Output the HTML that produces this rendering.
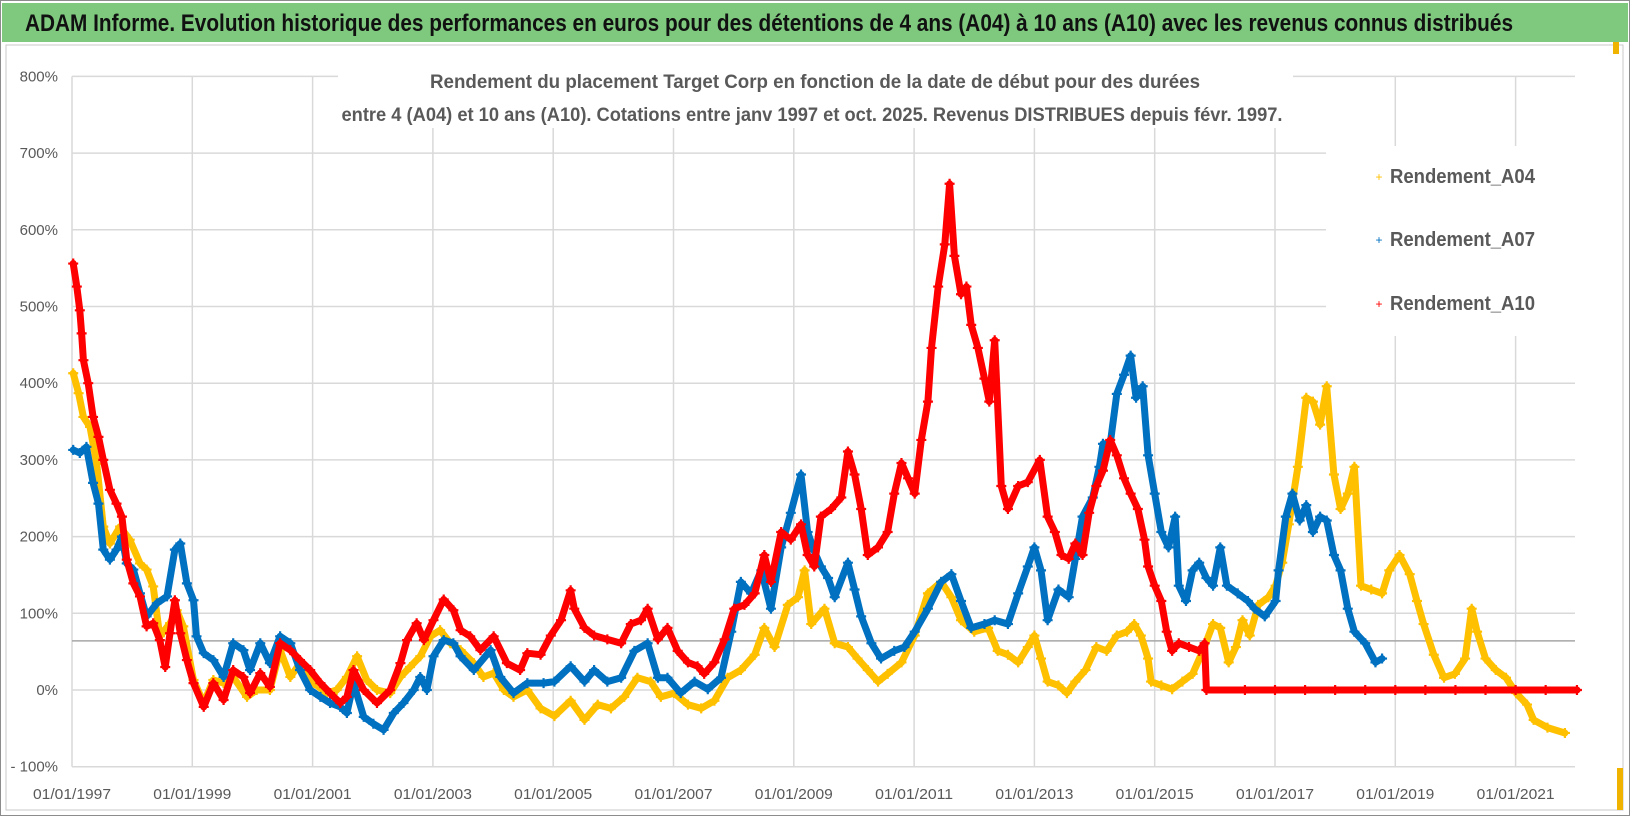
<!DOCTYPE html>
<html><head><meta charset="utf-8"><style>
html,body{margin:0;padding:0;background:#fff;}
svg{display:block;font-family:"Liberation Sans",sans-serif;}
</style></head><body>
<svg id="chart" width="1630" height="816" viewBox="0 0 1630 816">
<rect x="0" y="0" width="1630" height="816" fill="#fff"/>
<rect x="0.5" y="0.5" width="1629" height="815" fill="none" stroke="#8c8c8c"/>
<rect x="2" y="3" width="1626" height="39" fill="#7fc97f"/>
<text x="25" y="31" font-size="24" font-weight="bold" fill="#111" textLength="1488" lengthAdjust="spacingAndGlyphs">ADAM Informe. Evolution historique des performances en euros pour des détentions de 4 ans (A04) à 10 ans (A10) avec les revenus connus distribués</text>
<rect x="6" y="45" width="1617" height="765" fill="#fff" stroke="#c8c8c8"/>
<rect x="1613" y="42" width="6" height="12" fill="#f0b400"/>
<rect x="1617" y="768" width="6" height="42" fill="#f0b400"/>
<g id="grid"></g>
<g id="series"></g>
<rect x="338" y="60" width="955" height="68" fill="#fff"/>
<text x="815" y="88" font-size="19" font-weight="bold" fill="#595959" text-anchor="middle" textLength="770" lengthAdjust="spacingAndGlyphs">Rendement du placement Target Corp en fonction de la date de début pour des durées</text>
<text x="812" y="121" font-size="19" font-weight="bold" fill="#595959" text-anchor="middle" textLength="941" lengthAdjust="spacingAndGlyphs">entre 4 (A04) et 10 ans (A10). Cotations entre janv 1997 et oct. 2025. Revenus DISTRIBUES depuis févr. 1997.</text>
<g id="legend">
<rect x="1326" y="146" width="290" height="190" fill="#fff"/>
<g><text x="1379" y="181" font-size="12" fill="#ffc000" text-anchor="middle">+</text><text x="1390" y="183" font-size="20" font-weight="bold" fill="#595959" textLength="145" lengthAdjust="spacingAndGlyphs">Rendement_A04</text></g>
<g><text x="1379" y="244" font-size="12" fill="#0070c0" text-anchor="middle">+</text><text x="1390" y="246" font-size="20" font-weight="bold" fill="#595959" textLength="145" lengthAdjust="spacingAndGlyphs">Rendement_A07</text></g>
<g><text x="1379" y="308" font-size="12" fill="#ff0000" text-anchor="middle">+</text><text x="1390" y="310" font-size="20" font-weight="bold" fill="#595959" textLength="145" lengthAdjust="spacingAndGlyphs">Rendement_A10</text></g>
</g>
<g id="axes"></g>
</svg>
<script>
// ---- data ----
const yTicks = [800,700,600,500,400,300,200,100,0,-100];
const yTickLabels = ["800%","700%","600%","500%","400%","300%","200%","100%","0%","- 100%"];
const xTicks = [1997,1999,2001,2003,2005,2007,2009,2011,2013,2015,2017,2019,2021];
const xTickLabels = ["01/01/1997","01/01/1999","01/01/2001","01/01/2003","01/01/2005","01/01/2007","01/01/2009","01/01/2011","01/01/2013","01/01/2015","01/01/2017","01/01/2019","01/01/2021"];
const refLineValue = 64;

const datesA04 = [1997.02,1997.11,1997.19,1997.30,1997.41,1997.52,1997.63,1997.80,1997.96,1998.13,1998.24,1998.35,1998.46,1998.63,1998.74,1998.85,1999.02,1999.19,1999.35,1999.52,1999.68,1999.91,2000.07,2000.29,2000.46,2000.63,2000.79,2001.02,2001.24,2001.40,2001.57,2001.74,2001.90,2002.07,2002.29,2002.46,2002.62,2002.79,2002.96,2003.12,2003.29,2003.46,2003.68,2003.84,2004.01,2004.18,2004.34,2004.57,2004.79,2005.02,2005.29,2005.52,2005.74,2005.96,2006.18,2006.40,2006.62,2006.79,2007.01,2007.24,2007.46,2007.68,2007.90,2008.12,2008.35,2008.51,2008.68,2008.90,2009.07,2009.18,2009.29,2009.51,2009.68,2009.90,2010.06,2010.23,2010.40,2010.56,2010.79,2011.01,2011.23,2011.45,2011.62,2011.78,2012.00,2012.23,2012.39,2012.56,2012.73,2012.89,2013.00,2013.11,2013.22,2013.40,2013.54,2013.68,2013.85,2014.03,2014.20,2014.37,2014.54,2014.66,2014.77,2014.89,2014.94,2015.11,2015.29,2015.46,2015.63,2015.80,2015.97,2016.09,2016.23,2016.35,2016.46,2016.58,2016.72,2016.89,2017.01,2017.12,2017.23,2017.38,2017.52,2017.63,2017.75,2017.86,2017.98,2018.09,2018.21,2018.32,2018.43,2018.60,2018.78,2018.90,2019.07,2019.24,2019.36,2019.47,2019.64,2019.81,2019.99,2020.16,2020.27,2020.36,2020.50,2020.67,2020.84,2021.01,2021.19,2021.30,2021.53,2021.82];
const valuesA04 = [413,387,356,343,295,213,191,213,196,165,157,135,70,87,104,83,13,-17,13,9,17,-9,0,0,52,17,35,9,-4,0,17,44,13,0,-4,17,30,44,70,78,61,52,35,17,22,0,-9,0,-24,-34,-14,-39,-19,-24,-9,16,11,-9,-4,-19,-24,-14,16,26,46,81,56,111,121,156,86,106,61,56,41,26,11,21,36,71,126,141,121,91,76,81,51,46,36,56,71,41,11,6,-4,11,26,56,51,71,76,86,71,41,11,6,1,11,21,51,86,81,36,56,91,71,111,121,136,166,216,291,381,376,346,396,281,236,256,291,136,131,126,156,176,151,116,86,46,16,21,41,106,76,41,26,16,-4,-19,-39,-49,-56];

const datesA07 = [1997.02,1997.13,1997.24,1997.35,1997.44,1997.52,1997.63,1997.74,1997.83,1997.91,1998.02,1998.13,1998.24,1998.41,1998.58,1998.71,1998.80,1998.91,1999.02,1999.07,1999.19,1999.35,1999.52,1999.68,1999.85,1999.96,2000.13,2000.29,2000.46,2000.63,2000.79,2000.96,2001.13,2001.29,2001.46,2001.57,2001.68,2001.85,2002.01,2002.18,2002.35,2002.51,2002.68,2002.79,2002.90,2003.01,2003.18,2003.34,2003.46,2003.68,2003.96,2004.12,2004.34,2004.57,2004.84,2005.02,2005.29,2005.52,2005.68,2005.90,2006.13,2006.35,2006.57,2006.74,2006.90,2007.12,2007.35,2007.57,2007.79,2007.96,2008.12,2008.29,2008.46,2008.62,2008.79,2008.95,2009.12,2009.23,2009.34,2009.45,2009.57,2009.68,2009.90,2010.01,2010.12,2010.29,2010.45,2010.67,2010.84,2011.01,2011.23,2011.45,2011.62,2011.78,2011.95,2012.17,2012.34,2012.56,2012.73,2012.89,2013.00,2013.11,2013.22,2013.40,2013.57,2013.68,2013.80,2013.97,2014.08,2014.14,2014.26,2014.37,2014.49,2014.60,2014.69,2014.80,2014.89,2015.00,2015.11,2015.23,2015.34,2015.40,2015.52,2015.63,2015.74,2015.86,2015.97,2016.09,2016.20,2016.38,2016.55,2016.66,2016.83,2017.01,2017.06,2017.18,2017.29,2017.41,2017.52,2017.63,2017.75,2017.86,2017.98,2018.09,2018.21,2018.32,2018.50,2018.67,2018.78];
const valuesA07 = [313,309,317,270,243,183,170,183,200,165,157,126,96,113,122,183,191,139,117,70,48,39,17,61,52,26,61,35,70,61,26,0,-9,-17,-22,-30,9,-35,-44,-52,-30,-17,0,17,0,44,65,61,44,26,52,17,-4,9,9,11,31,11,26,11,16,51,61,16,16,-4,11,1,16,76,141,126,156,106,186,231,281,206,181,161,146,121,166,131,96,61,41,51,56,76,106,141,151,116,81,86,91,86,126,161,186,156,91,131,121,171,226,251,291,321,321,386,411,436,381,396,306,256,206,186,226,136,116,156,166,146,136,186,136,126,116,106,96,116,156,226,256,221,241,206,226,221,176,156,106,76,61,36,41];

const datesA10 = [1997.02,1997.08,1997.13,1997.16,1997.19,1997.27,1997.35,1997.44,1997.52,1997.63,1997.74,1997.83,1997.91,1998.02,1998.13,1998.24,1998.35,1998.46,1998.55,1998.63,1998.71,1998.80,1998.91,1999.02,1999.19,1999.35,1999.52,1999.68,1999.85,1999.96,2000.13,2000.29,2000.46,2000.63,2000.79,2000.96,2001.13,2001.29,2001.46,2001.57,2001.68,2001.85,2002.07,2002.29,2002.46,2002.57,2002.73,2002.85,2003.01,2003.18,2003.34,2003.46,2003.62,2003.79,2004.01,2004.23,2004.45,2004.57,2004.79,2004.96,2005.13,2005.29,2005.35,2005.52,2005.68,2005.90,2006.13,2006.29,2006.46,2006.57,2006.74,2006.90,2007.07,2007.24,2007.40,2007.51,2007.68,2007.85,2008.01,2008.18,2008.35,2008.51,2008.62,2008.79,2008.95,2009.12,2009.23,2009.34,2009.45,2009.62,2009.79,2009.90,2010.01,2010.12,2010.23,2010.40,2010.56,2010.67,2010.79,2010.90,2011.01,2011.12,2011.23,2011.29,2011.40,2011.51,2011.59,2011.67,2011.78,2011.87,2011.95,2012.06,2012.17,2012.25,2012.34,2012.45,2012.56,2012.73,2012.89,2013.09,2013.22,2013.34,2013.45,2013.57,2013.68,2013.80,2013.91,2014.03,2014.14,2014.26,2014.37,2014.49,2014.60,2014.72,2014.83,2014.89,2015.00,2015.11,2015.20,2015.29,2015.40,2015.57,2015.74,2015.83,2015.86,2016.5,2017.0,2017.5,2018.0,2018.5,2019.0,2019.5,2020.0,2020.5,2021.0,2021.5,2022.02];
const valuesA10 = [556,526,495,465,430,400,356,330,300,261,243,226,170,139,122,83,87,65,30,74,117,74,39,9,-22,9,-13,26,17,-4,22,4,61,52,39,26,9,-4,-17,-9,26,0,-17,0,35,65,87,65,91,118,104,78,70,52,70,35,26,48,46,71,91,130,106,81,71,66,61,86,91,106,66,81,51,36,31,21,36,66,106,111,126,176,141,206,196,216,176,161,226,236,251,311,281,236,176,186,206,256,296,276,256,326,376,446,526,581,660,566,516,526,476,446,406,376,456,266,236,266,271,300,226,206,176,171,191,176,231,266,286,326,306,276,256,236,196,161,136,116,76,51,61,56,51,61,0,0,0,0,0,0,0,0,0,0,0,0,0];

// ---- scales ----
const X0 = 72, PXYEAR = 60.15, Y0 = 690, PXPCT = 0.767;
function xScale(yr){ return X0 + (yr - 1997) * PXYEAR; }
function yScale(v){ return Y0 - v * PXPCT; }
const plotRight = 1575;
const NS = "http://www.w3.org/2000/svg";
function mk(tag, attrs, parent){ const e = document.createElementNS(NS, tag); for (const k in attrs) e.setAttribute(k, attrs[k]); parent.appendChild(e); return e; }

const grid = document.getElementById('grid');
const axes = document.getElementById('axes');
yTicks.forEach((v, i) => {
  const y = yScale(v);
  const l = mk('line', {x1: X0, x2: plotRight, y1: y, y2: y, stroke: '#d9d9d9', 'stroke-width': 1.5}, grid);
  
  
  const t = mk('text', {x: 58, y: y + 5, 'font-size': 15, fill: '#595959', 'text-anchor': 'end'}, axes);
  t.textContent = yTickLabels[i];
  
  
});
xTicks.forEach((yr, i) => {
  const x = xScale(yr);
  const l = mk('line', {x1: x, x2: x, y1: yScale(800), y2: yScale(-100), stroke: '#d9d9d9', 'stroke-width': 1.5}, grid);
  
  
  const t = mk('text', {x: x, y: 799, 'font-size': 15, fill: '#595959', 'text-anchor': 'middle', textLength: 78, lengthAdjust: 'spacingAndGlyphs'}, axes);
  t.textContent = xTickLabels[i];
  
  
});
const ref = mk('line', {x1: X0, x2: plotRight, y1: yScale(refLineValue), y2: yScale(refLineValue), stroke: '#a6a6a6', 'stroke-width': 1.5}, grid);



const seriesG = document.getElementById('series');
function drawSeries(dates, vals, color, name){
  const g = mk('g', {}, seriesG);
  
  
  const pts = dates.map((d, i) => xScale(d).toFixed(1) + ',' + yScale(vals[i]).toFixed(1)).join(' ');
  const pl = mk('polyline', {points: pts, fill: 'none', stroke: color, 'stroke-width': 7, 'stroke-linejoin': 'round', 'stroke-linecap': 'round'}, g);
  
  
  dates.forEach((d, i) => {
    const x = xScale(d), y = yScale(vals[i]);
    const p = mk('path', {d: `M${x-5},${y}H${x+5}M${x},${y-5}V${y+5}`, stroke: color, 'stroke-width': 2.2, fill: 'none'}, g);
    
    
  });
}
drawSeries(datesA04, valuesA04, '#ffc000', 'series-a04');
drawSeries(datesA07, valuesA07, '#0070c0', 'series-a07');
drawSeries(datesA10, valuesA10, '#ff0000', 'series-a10');
</script>
</body></html>
